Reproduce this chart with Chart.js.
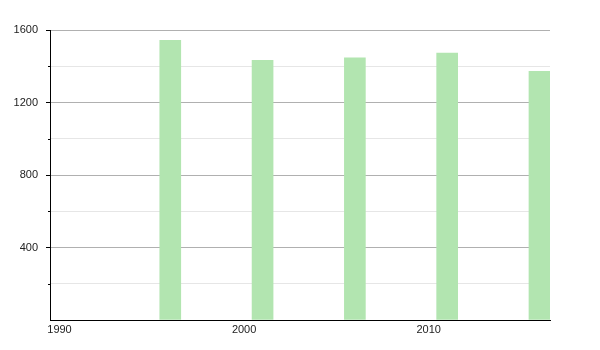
<!DOCTYPE html>
<html>
<head>
<meta charset="UTF-8">
<title>Population</title>
<style>
  html, body { margin: 0; padding: 0; background: #fff; }
  #wrap { width: 600px; height: 350px; }
</style>
<script src="https://cdn.jsdelivr.net/npm/chart.js"></script>
</head>
<body>
<div id="wrap"><canvas id="chart" width="600" height="350"></canvas></div>
<script>
// census years and population
const years = [1996, 2001, 2006, 2011, 2016];
const population = [1543, 1432, 1447, 1473, 1372];
const xTicks = [1990, 2000, 2010];
const yMajorStep = 400;

// minor y ticks drawn shorter than the major ones
const minorTicks = {
  id: 'minorTicks',
  afterDraw(chart) {
    const y = chart.scales.y;
    const ctx = chart.ctx;
    ctx.save();
    ctx.strokeStyle = '#000';
    ctx.lineWidth = 1;
    y.ticks.forEach(t => {
      if (t.value % yMajorStep !== 0) {
        const py = Math.round(y.getPixelForValue(t.value)) + 0.5;
        ctx.beginPath();
        ctx.moveTo(y.right - 2, py);
        ctx.lineTo(y.right, py);
        ctx.stroke();
      }
    });
    ctx.restore();
  }
};

new Chart(document.getElementById('chart'), {
  type: 'bar',
  data: {
    datasets: [{
      data: years.map((yr, i) => ({ x: yr, y: population[i] })),
      backgroundColor: 'rgb(178,229,176)',
      borderWidth: 0,
      barThickness: 21
    }]
  },
  options: {
    responsive: false,
    animation: false,
    events: [],
    layout: { padding: { top: 30, right: 50, left: 0, bottom: 0 } },
    plugins: { legend: { display: false }, tooltip: { enabled: false } },
    scales: {
      x: {
        type: 'linear',
        offset: false,
        min: 1989.485,
        max: 2016.57,
        afterBuildTicks: s => { s.ticks = xTicks.map(v => ({ value: v })); },
        afterFit: s => { s.height = 30; },
        grid: { display: false, offset: false, drawTicks: false },
        border: { display: true, color: '#000', width: 1 },
        ticks: {
          padding: 3,
          color: '#222',
          font: { family: 'Liberation Sans, Arial, sans-serif', size: 11 },
          callback: v => String(v)
        }
      },
      y: {
        min: 0,
        max: 1600,
        afterFit: s => { s.width = 50; },
        grid: {
          color: c => (c.tick && c.tick.value % yMajorStep === 0) ? '#b0b0b0' : '#e6e6e6',
          tickColor: c => (c.tick && c.tick.value % yMajorStep === 0 && c.tick.value > 0) ? '#000' : 'rgba(0,0,0,0)',
          tickLength: 4
        },
        border: { display: true, color: '#000', width: 1 },
        ticks: {
          stepSize: 200,
          padding: 8,
          color: '#222',
          font: { family: 'Liberation Sans, Arial, sans-serif', size: 11 },
          callback: v => (v % yMajorStep === 0 && v > 0) ? String(v) : ''
        }
      }
    }
  },
  plugins: [minorTicks]
});
</script>
</body>
</html>
